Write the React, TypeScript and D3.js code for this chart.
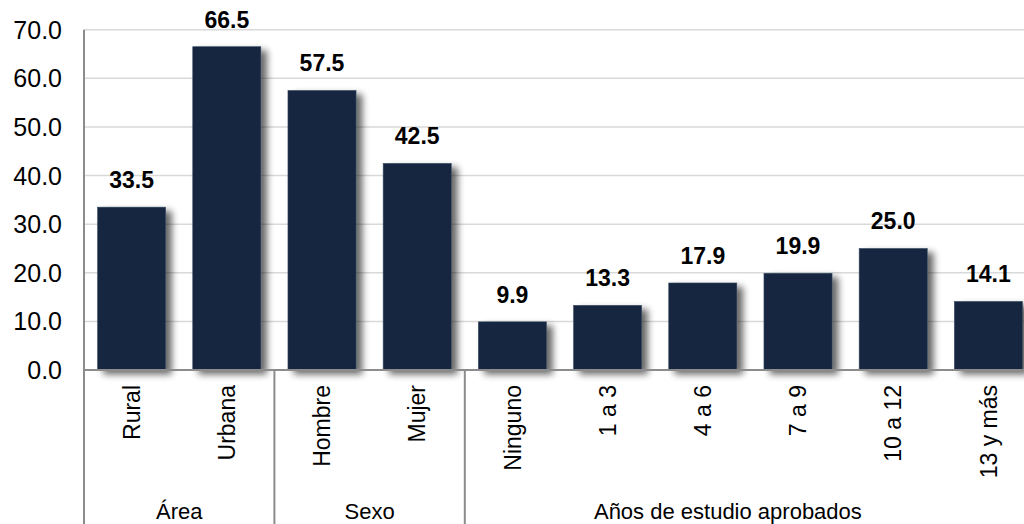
import React from "react";
import * as d3 from "d3";

const categories = ["Rural", "Urbana", "Hombre", "Mujer", "Ninguno", "1 a 3", "4 a 6", "7 a 9", "10 a 12", "13 y más"];
const values = [33.5, 66.5, 57.5, 42.5, 9.9, 13.3, 17.9, 19.9, 25.0, 14.1];
const groups = [
  { label: "Área", start: 0, count: 2 },
  { label: "Sexo", start: 2, count: 2 },
  { label: "Años de estudio aprobados", start: 4, count: 6 },
];
const yTicks = [0, 10, 20, 30, 40, 50, 60, 70];

const W = 1024;
const H = 524;
const left = 84;
const right = 1036;
const y0 = 370;
const yTop = 29.7;
const visibleRight = 991;

export default function App() {
  const x = d3.scaleBand<string>().domain(categories).range([left, right]).paddingInner(0.285).paddingOuter(0.1425);
  const y = d3.scaleLinear().domain([0, 70]).range([y0, yTop]);
  const step = x.step();
  const font = "'Liberation Sans', Arial, sans-serif";
  const axisColor = "#8c8c8c";
  const barColor = "#13253f";

  return (
    <div style={{ position: "absolute", left: 0, top: 0 }}>
      <svg width={W} height={H} style={{ display: "block", background: "#fff" }}>
        <defs>
          <filter id="shadow" x="-20%" y="-20%" width="150%" height="150%">
            <feGaussianBlur in="SourceAlpha" stdDeviation="3.5" />
            <feOffset dx="6" dy="4" result="ob" />
            <feComponentTransfer>
              <feFuncA type="linear" slope="0.6" />
            </feComponentTransfer>
            <feMerge>
              <feMergeNode />
              <feMergeNode in="SourceGraphic" />
            </feMerge>
          </filter>
        </defs>
        {yTicks.filter((t) => t > 0).map((t) => (
          <line key={t} x1={left} x2={W} y1={y(t)} y2={y(t)} stroke="#d9d9d9" strokeWidth={1.5} />
        ))}
        {yTicks.map((t) => (
          <text key={"l" + t} x={62} y={y(t)} dy="0.36em" textAnchor="end" fontFamily={font} fontSize={25} fill="#000">
            {t.toFixed(1)}
          </text>
        ))}
        {categories.map((c, i) => (
          <rect
            key={c}
            x={x(c)}
            y={y(values[i])}
            width={x.bandwidth()}
            height={y0 - y(values[i])}
            fill={barColor}
            stroke="#3b4b62"
            strokeWidth={0.6}
            filter="url(#shadow)"
          />
        ))}
        {categories.map((c, i) => (
          <text
            key={"v" + c}
            x={(x(c) as number) + x.bandwidth() / 2}
            y={y(values[i]) - 19}
            textAnchor="middle"
            fontFamily={font}
            fontWeight="bold"
            fontSize={23}
            fill="#000"
          >
            {values[i].toFixed(1)}
          </text>
        ))}
        <line x1={left} x2={left} y1={yTop} y2={H} stroke={axisColor} strokeWidth={2} />
        <line x1={left} x2={W} y1={y0} y2={y0} stroke={axisColor} strokeWidth={2} />
        {groups.map((g) => {
          const xs = left + (g.start + g.count) * step;
          return <line key={"s" + g.label} x1={xs} x2={xs} y1={y0} y2={H} stroke={axisColor} strokeWidth={2} />;
        })}
        {categories.map((c) => {
          const cx = (x(c) as number) + x.bandwidth() / 2;
          return (
            <text
              key={"c" + c}
              transform={`translate(${cx},385) rotate(-90)`}
              dy="0.36em"
              textAnchor="end"
              fontFamily={font}
              fontSize={23}
              fill="#000"
            >
              {c}
            </text>
          );
        })}
        {groups.map((g) => {
          const gs = left + g.start * step;
          const ge = Math.min(left + (g.start + g.count) * step, visibleRight);
          return (
            <text key={"g" + g.label} x={(gs + ge) / 2} y={519} textAnchor="middle" fontFamily={font} fontSize={22} fill="#000">
              {g.label}
            </text>
          );
        })}
      </svg>
    </div>
  );
}
